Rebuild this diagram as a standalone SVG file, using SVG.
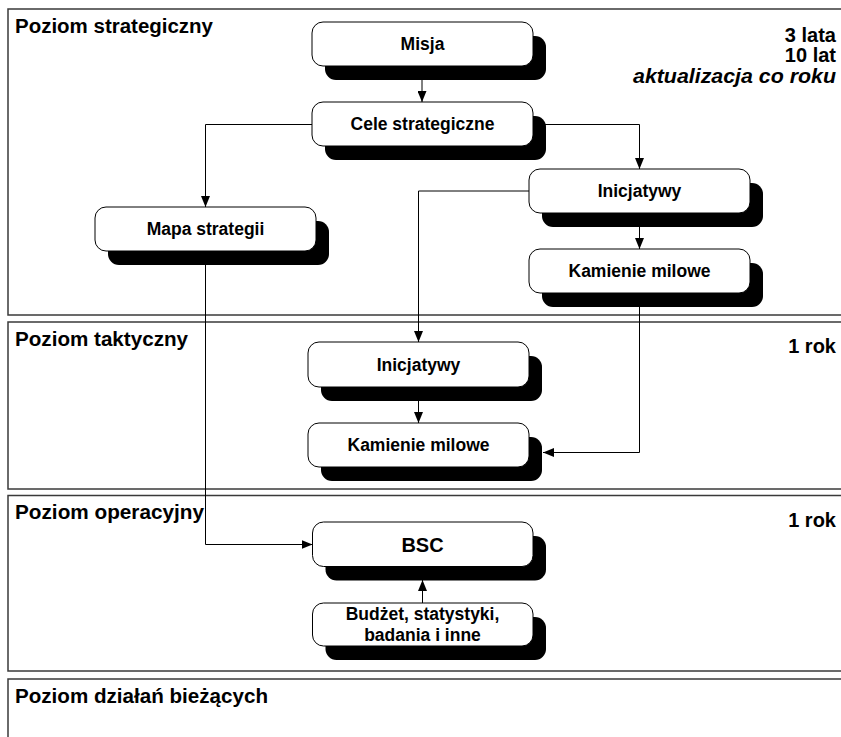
<svg xmlns="http://www.w3.org/2000/svg" width="841" height="737" viewBox="0 0 841 737">
  <defs>
    <marker id="arrow" markerUnits="userSpaceOnUse" markerWidth="12" markerHeight="9" refX="11" refY="4.5" orient="auto">
      <path d="M0,0 L11,4.5 L0,9 z" fill="#000"/>
    </marker>
  </defs>
  <style>
    .panel { fill: #fff; stroke: #3a3a3a; stroke-width: 1.5; }
    .title { font-family: "Liberation Sans", Arial, sans-serif; font-weight: bold; font-size: 20px; fill: #000; }
    .side { font-family: "Liberation Sans", Arial, sans-serif; font-weight: bold; font-size: 20px; fill: #000; text-anchor: end; }
    .shadow { fill: #000; }
    .box { fill: #fff; stroke: #000; stroke-width: 1; }
    .label { font-family: "Liberation Sans", Arial, sans-serif; font-weight: bold; font-size: 17.5px; fill: #000; text-anchor: middle; }
    .big { font-size: 20px; }
    .conn { fill: none; stroke: #000; stroke-width: 1; }
  </style>

  <rect width="841" height="737" fill="#fff"/>

  <!-- level panels -->
  <g id="panels">
    <rect class="panel" x="8" y="9" width="850" height="306"/>
    <rect class="panel" x="8" y="322" width="850" height="167"/>
    <rect class="panel" x="8" y="495.5" width="850" height="175.5"/>
    <rect class="panel" x="8" y="679" width="850" height="80"/>
  </g>

  <g id="panel-labels">
    <text class="title" x="15" y="33" textLength="198" lengthAdjust="spacingAndGlyphs">Poziom strategiczny</text>
    <text class="title" x="15" y="346" textLength="173" lengthAdjust="spacingAndGlyphs">Poziom taktyczny</text>
    <text class="title" x="15" y="519" textLength="189" lengthAdjust="spacingAndGlyphs">Poziom operacyjny</text>
    <text class="title" x="15" y="703" textLength="253" lengthAdjust="spacingAndGlyphs">Poziom działań bieżących</text>
    <text class="side" x="836" y="42">3 lata</text>
    <text class="side" x="836" y="62">10 lat</text>
    <text class="side" x="836" y="83" font-style="italic" textLength="203" lengthAdjust="spacingAndGlyphs">aktualizacja co roku</text>
    <text class="side" x="836" y="353">1 rok</text>
    <text class="side" x="836" y="527">1 rok</text>
  </g>

  <!-- connectors -->
  <g id="connectors">
    <path class="conn" d="M422,66 V102" marker-end="url(#arrow)"/>
    <path class="conn" d="M312,124.5 H205.5 V207" marker-end="url(#arrow)"/>
    <path class="conn" d="M533,124.5 H639.5 V169" marker-end="url(#arrow)"/>
    <path class="conn" d="M639.5,213 V249" marker-end="url(#arrow)"/>
    <path class="conn" d="M529,191 H418.5 V342" marker-end="url(#arrow)"/>
    <path class="conn" d="M418.5,387 V423" marker-end="url(#arrow)"/>
    <path class="conn" d="M639.5,293 V452.5 H543" marker-end="url(#arrow)"/>
    <path class="conn" d="M205.5,251 V544.5 H312.5" marker-end="url(#arrow)"/>
    <path class="conn" d="M422.5,603 V580" marker-end="url(#arrow)"/>
  </g>

  <!-- nodes -->
  <g id="misja">
    <rect class="shadow" x="325" y="36" width="221" height="44" rx="11"/>
    <rect class="box" x="312" y="22" width="221" height="44" rx="11"/>
    <text class="label" x="422.5" y="50">Misja</text>
  </g>
  <g id="cele-strategiczne">
    <rect class="shadow" x="325" y="116" width="221" height="44" rx="11"/>
    <rect class="box" x="312" y="102" width="221" height="44" rx="11"/>
    <text class="label" x="422.5" y="130">Cele strategiczne</text>
  </g>
  <g id="mapa-strategii">
    <rect class="shadow" x="108" y="221" width="221" height="44" rx="11"/>
    <rect class="box" x="95" y="207" width="221" height="44" rx="11"/>
    <text class="label" x="205.5" y="235">Mapa strategii</text>
  </g>
  <g id="inicjatywy-strategiczne">
    <rect class="shadow" x="542" y="183" width="221" height="44" rx="11"/>
    <rect class="box" x="529" y="169" width="221" height="44" rx="11"/>
    <text class="label" x="639.5" y="197">Inicjatywy</text>
  </g>
  <g id="kamienie-strategiczne">
    <rect class="shadow" x="542" y="263" width="221" height="44" rx="11"/>
    <rect class="box" x="529" y="249" width="221" height="44" rx="11"/>
    <text class="label" x="639.5" y="277">Kamienie milowe</text>
  </g>
  <g id="inicjatywy-taktyczne">
    <rect class="shadow" x="321" y="356" width="221" height="45" rx="11"/>
    <rect class="box" x="308" y="342" width="221" height="45" rx="11"/>
    <text class="label" x="418.5" y="370.5">Inicjatywy</text>
  </g>
  <g id="kamienie-taktyczne">
    <rect class="shadow" x="321" y="437" width="221" height="44" rx="11"/>
    <rect class="box" x="308" y="423" width="221" height="44" rx="11"/>
    <text class="label" x="418.5" y="451">Kamienie milowe</text>
  </g>
  <g id="bsc">
    <rect class="shadow" x="325.5" y="536" width="220.5" height="44.5" rx="11"/>
    <rect class="box" x="312.5" y="522" width="220.5" height="44.5" rx="11"/>
    <text class="label big" x="422.5" y="551.5">BSC</text>
  </g>
  <g id="budzet">
    <rect class="shadow" x="325.5" y="617" width="220.5" height="43" rx="11"/>
    <rect class="box" x="312.5" y="603" width="220.5" height="43" rx="11"/>
    <text class="label" x="422.5" y="620">Budżet, statystyki,</text>
    <text class="label" x="422.5" y="641">badania i inne</text>
  </g>
</svg>
